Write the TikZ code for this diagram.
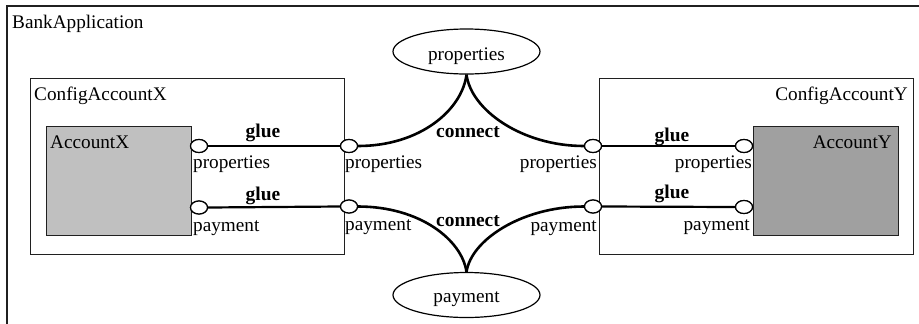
\documentclass[tikz,border=0pt]{standalone}
\usepackage{fontspec}
\setmainfont{Liberation Serif}
\usetikzlibrary{shapes.geometric}
\definecolor{fillX}{HTML}{C0C0C0}
\definecolor{fillY}{HTML}{A0A0A0}
\definecolor{edge}{HTML}{202020}
\begin{document}
\begin{tikzpicture}[x=1bp,y=-1bp,
  every node/.style={font=\fontsize{19.3}{22}\selectfont, inner sep=0pt},
  box/.style={draw=edge, line width=1.2bp, anchor=north west, inner sep=0pt},
  port/.style={ellipse, draw, fill=white, line width=1.2bp, minimum width=17bp, minimum height=13bp, inner sep=0pt},
  glueline/.style={line width=2.2bp},
  connline/.style={line width=2.6bp},
  lbl/.style={anchor=base west},
  lblr/.style={anchor=base east},
  boldlbl/.style={anchor=base, font=\fontsize{19.5}{22}\selectfont\bfseries},
  iface/.style={ellipse, draw, line width=1.2bp, minimum width=147bp, minimum height=45bp, inner sep=0pt}]
\useasboundingbox (0,0) rectangle (919,323);
% outer frame
\draw[edge, line width=1.3bp] (7,330) -- (7,6) -- (930,6);
\node[lbl] (tBank) at (12,28) {BankApplication};
% boxes
\node[box, minimum width=314bp, minimum height=176bp] (cfgX) at (30,78) {};
\node[box, fill=fillX, minimum width=145bp, minimum height=109bp] (accX) at (46,126) {};
\node[box, minimum width=314bp, minimum height=176bp] (cfgY) at (599,78) {};
\node[box, fill=fillY, minimum width=145bp, minimum height=109bp] (accY) at (753,126) {};
\node[lbl] (tCX) at (34,100) {ConfigAccountX};
\node[lbl] (tAX) at (50,148) {AccountX};
\node[lblr] (tCY) at (908,100) {ConfigAccountY};
\node[lblr] (tAY) at (892,148) {AccountY};
% interface ellipses
\node[iface] (eProp) at (466.5,51.5) {};
\node[iface] (ePay) at (466.5,295) {};
\node[anchor=base] (tProp) at (466.5,60) {properties};
\node[anchor=base] (tPay) at (466.5,302) {payment};
% ports
\node[port] (pXp) at (199,146) {};
\node[port] (pXm) at (199,207.5) {};
\node[port] (cXp) at (349,146) {};
\node[port] (cXm) at (349,206.5) {};
\node[port] (cYp) at (593,146) {};
\node[port] (cYm) at (593,206.5) {};
\node[port] (pYp) at (744,146) {};
\node[port] (pYm) at (744,207) {};
% glue lines
\draw[glueline] (pXp.east) -- (cXp.west);
\draw[glueline] (pXm.east) -- (cXm.west);
\draw[glueline] (cYp.east) -- (pYp.west);
\draw[glueline] (cYm.east) -- (pYm.west);
% connect curves
\draw[connline] (cXp.east) .. controls (420,146) and (462,110) .. (eProp.south);
\draw[connline] (cYp.west) .. controls (522,146) and (471,110) .. (eProp.south);
\draw[connline] (cXm.east) .. controls (420,206.5) and (462,240) .. (ePay.north);
\draw[connline] (cYm.west) .. controls (522,206.5) and (471,240) .. (ePay.north);
% redraw ports on top
\foreach \p/\x/\y in {a/199/146, b/199/207.5, c/349/146, d/349/206.5, e/593/146, f/593/206.5, g/744/146, h/744/207}
  \node[port] (r\p) at (\x,\y) {};
% labels
\node[boldlbl] (gXp) at (263,137) {glue};
\node[boldlbl] (gXm) at (263,200) {glue};
\node[boldlbl] (gYp) at (672,141) {glue};
\node[boldlbl] (gYm) at (672,198) {glue};
\node[boldlbl] (cnP) at (468,137) {connect};
\node[boldlbl] (cnM) at (468,226) {connect};
\node[lbl] (lXp) at (193,168) {properties};
\node[lbl] (lXm) at (193,231) {payment};
\node[lbl] (lcXp) at (345,168) {properties};
\node[lbl] (lcXm) at (345,230) {payment};
\node[lblr] (lcYp) at (597,168) {properties};
\node[lblr] (lcYm) at (597,231) {payment};
\node[lblr] (lYp) at (752,168) {properties};
\node[lblr] (lYm) at (750,230) {payment};
\end{tikzpicture}
\end{document}
